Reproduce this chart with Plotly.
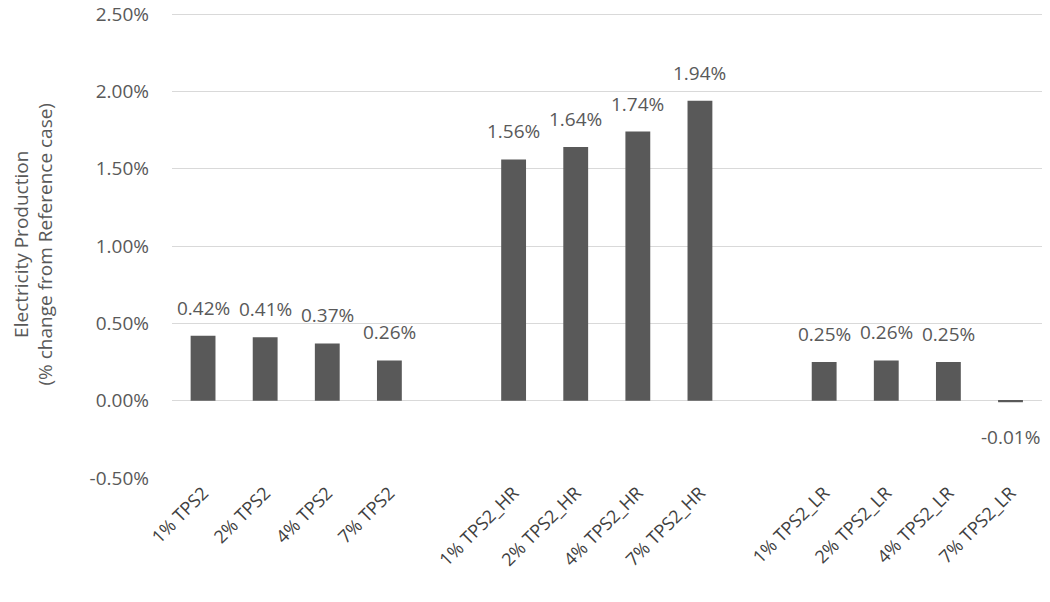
import plotly.graph_objects as go

categories = ["1% TPS2", "2% TPS2", "4% TPS2", "7% TPS2", " ",
              "1% TPS2_HR", "2% TPS2_HR", "4% TPS2_HR", "7% TPS2_HR", "  ",
              "1% TPS2_LR", "2% TPS2_LR", "4% TPS2_LR", "7% TPS2_LR"]
values = [0.42, 0.41, 0.37, 0.26, None,
          1.56, 1.64, 1.74, 1.94, None,
          0.25, 0.26, 0.25, -0.01]
y_ticks = [-0.5, 0.0, 0.5, 1.0, 1.5, 2.0, 2.5]
y_title = "Electricity Production<br>(% change from Reference case)"

FONT = "Open Sans, Liberation Sans, sans-serif"
GREY = "#595959"

fig = go.Figure(go.Bar(
    x=categories, y=values,
    marker=dict(color=GREY, line=dict(width=0)),
    cliponaxis=False, hoverinfo="x+y",
))

annotations = []
for c, v in zip(categories, values):
    if v is None:
        continue
    annotations.append(dict(
        x=c, y=v, xref="x", yref="y", text="%.2f%%" % v, showarrow=False,
        yanchor="bottom" if v >= 0 else "top", yshift=13 if v >= 0 else -20,
        font=dict(family=FONT, size=19, color=GREY),
    ))
annotations.append(dict(
    xref="paper", yref="paper", x=0, y=0.5, xanchor="center", yanchor="middle",
    xshift=-139, text=y_title, textangle=-90, showarrow=False,
    font=dict(family=FONT, size=19, color=GREY),
))

fig.update_layout(
    width=1050, height=602,
    margin=dict(l=172, r=8, t=11, b=124, autoexpand=False),
    plot_bgcolor="white", paper_bgcolor="white",
    bargap=0.6, showlegend=False,
    font=dict(family=FONT, color=GREY),
    annotations=annotations,
    yaxis=dict(
        range=[-0.5, 2.52], tickmode="array", tickvals=y_ticks,
        ticktext=["%.2f%%" % t for t in y_ticks],
        showgrid=True, gridcolor="#d9d9d9", gridwidth=1,
        zeroline=True, zerolinecolor="#d9d9d9", zerolinewidth=1,
        showline=False, ticks="", tickfont=dict(size=19, color=GREY),
        ticklabelstandoff=22, automargin=False,
    ),
    xaxis=dict(
        type="category", tickangle=-45, showgrid=False, showline=False, ticks="",
        tickfont=dict(size=18, color="#404040"), automargin=False,
    ),
)

fig.write_html("out.html", config={"displayModeBar": False},
               post_script="document.body.style.margin='0px';document.body.style.overflow='hidden';")
